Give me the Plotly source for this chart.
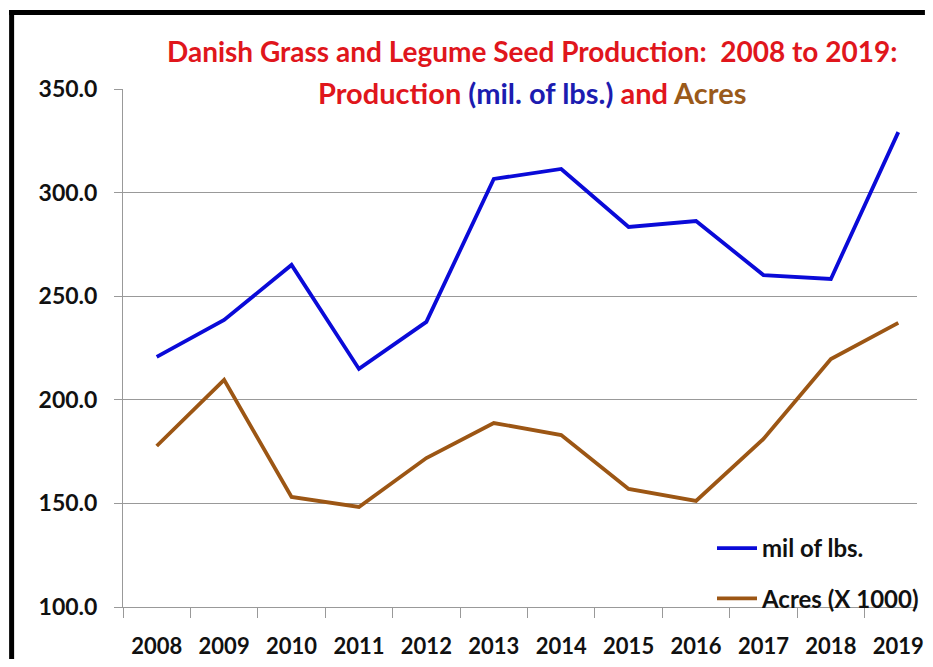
import plotly.graph_objects as go

years = ["2008", "2009", "2010", "2011", "2012", "2013", "2014", "2015", "2016", "2017", "2018", "2019"]
production = [220.7, 238.5, 265.1, 214.9, 237.6, 306.6, 311.4, 283.4, 286.3, 260.2, 258.3, 329.2]
acres = [177.7, 209.6, 153.1, 148.3, 171.9, 188.8, 183.0, 157.0, 151.2, 181.1, 219.7, 237.1]
y_ticks = [100, 150, 200, 250, 300, 350]
y_tick_labels = ["100.0", "150.0", "200.0", "250.0", "300.0", "350.0"]

# page body has an 8px margin; figure is sized so the page does not scroll
OFF = 8
W, H = 933 - 2 * OFF, 667 - 2 * OFF
RIGHT_EDGE = OFF + W  # window x of figure right edge
L, R, T = 123 - OFF, 0, 89 - OFF
B = H - (607 - OFF)
pw, ph = W - L - R, H - T - B

def px(x):  # x in window pixels -> paper coords
    return (x - OFF - L) / pw

def py(y):  # y in window pixels -> paper coords
    return (H - B - (y - OFF)) / ph

FONT = "Lato"
BLUE = "#0a0ad8"
BROWN = "#9c5614"
RED = "#e0161c"

fig = go.Figure()
fig.add_trace(go.Scatter(x=years, y=production, mode="lines", name="mil of lbs.",
                         line=dict(color=BLUE, width=3.8), legendgroup="a"))
fig.add_trace(go.Scatter(x=years, y=acres, mode="lines", name="Acres (X 1000)",
                         line=dict(color=BROWN, width=3.8), legendgroup="b"))

fig.update_layout(
    width=W, height=H,
    margin=dict(l=L, r=R, t=T, b=B),
    paper_bgcolor="white", plot_bgcolor="white",
    font=dict(family=FONT, color="#111111"),
    showlegend=True,
    legend=dict(x=px(718), y=py(526), xanchor="left", yanchor="top",
                font=dict(family=FONT, size=24, color="#111111", weight="bold"),
                bgcolor="rgba(255,255,255,0)", traceorder="grouped", tracegroupgap=16,
                itemwidth=40),
    xaxis=dict(type="category", range=[-0.5, (RIGHT_EDGE - 157) / 68.1], tickson="boundaries",
               ticks="outside", ticklen=10, tickcolor="#999999", showgrid=False,
               showline=True, linecolor="#999999", linewidth=1,
               tickfont=dict(family=FONT, size=22, color="#111111", weight="bold"),
               ticklabelstandoff=20),
    yaxis=dict(range=[100, 350], tickvals=y_ticks, ticktext=y_tick_labels,
               ticks="outside", ticklen=8, tickcolor="#999999",
               showgrid=True, gridcolor="#999999", gridwidth=1,
               showline=True, linecolor="#999999", linewidth=1, zeroline=False,
               tickfont=dict(family=FONT, size=23, color="#111111", weight="bold"),
               ticklabelstandoff=12),
)

fig.add_annotation(xref="paper", yref="paper", x=px(536), y=py(51),
                   text="Danish Grass and Legume Seed Production:  2008 to 2019:",
                   showarrow=False, xanchor="center", yanchor="middle",
                   font=dict(family=FONT, size=28, color=RED, weight="bold"))
fig.add_annotation(xref="paper", yref="paper", x=px(536), y=py(92),
                   text=(f"<span style='color:{RED}'>Production </span>"
                         f"<span style='color:#1c1cb0'>(mil. of lbs.)</span>"
                         f"<span style='color:{RED}'> and </span>"
                         f"<span style='color:#9a5a1a'>Acres</span>"),
                   showarrow=False, xanchor="center", yanchor="middle",
                   bgcolor="white",
                   font=dict(family=FONT, size=29, color=RED, weight="bold"))

# frame border
fig.add_shape(type="line", xref="paper", yref="paper", x0=px(10.5), x1=px(10.5),
              y0=py(10), y1=py(667), line=dict(color="black", width=5))
fig.add_shape(type="line", xref="paper", yref="paper", x0=px(8), x1=px(933),
              y0=py(12.5), y1=py(12.5), line=dict(color="black", width=5))

fig.write_html("out.html")
